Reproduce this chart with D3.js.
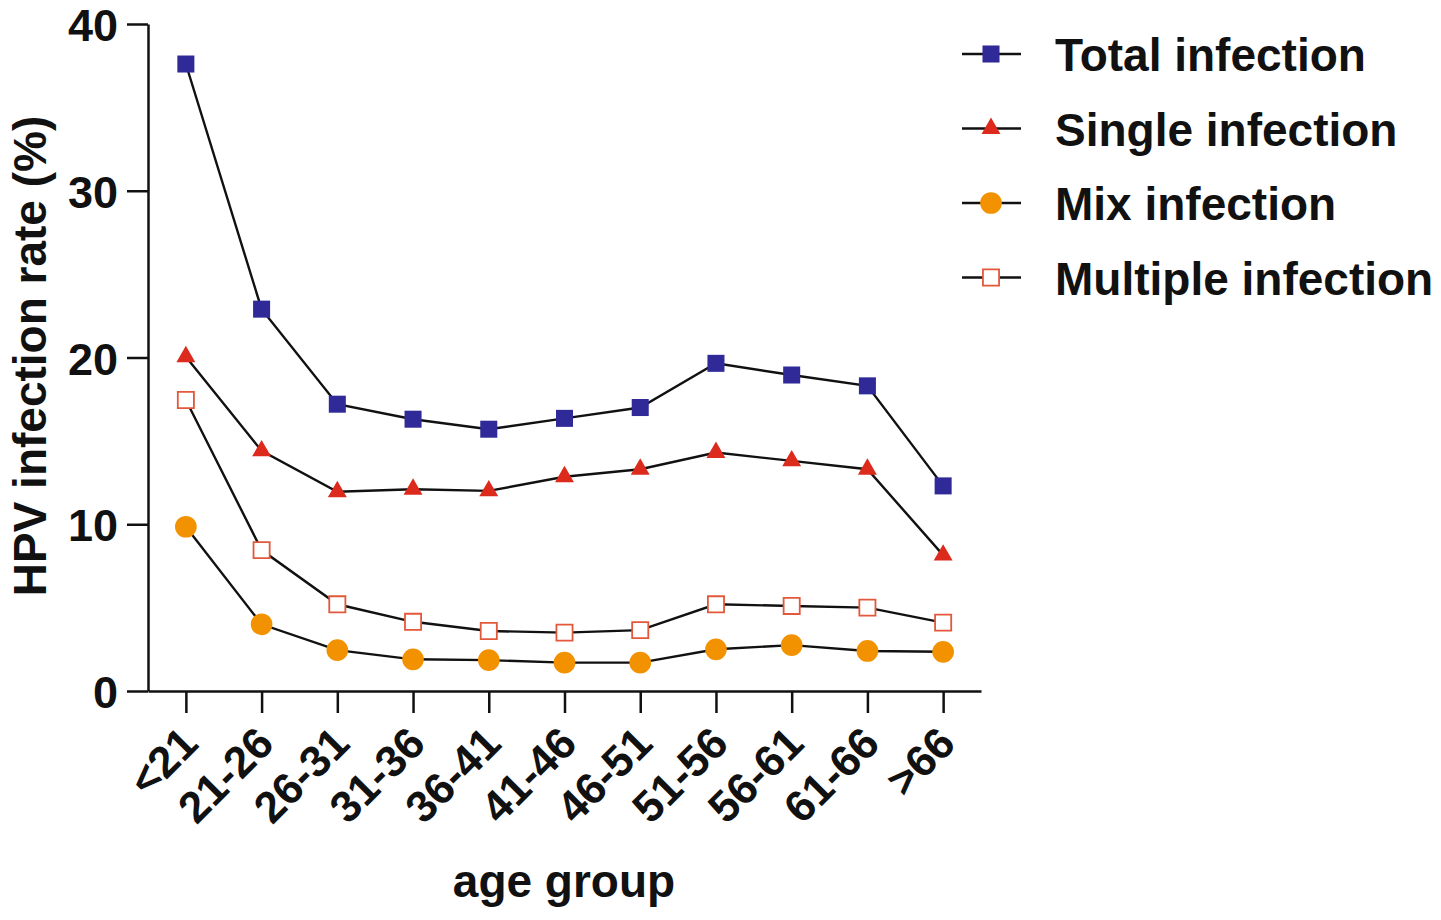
<!DOCTYPE html>
<html>
<head>
<meta charset="utf-8">
<script src="https://cdn.jsdelivr.net/npm/d3@7"></script>
<style>
  body { margin: 0; background: #fff; }
  svg text { font-family: "Liberation Sans", Arial, sans-serif; font-weight: bold; fill: #111; }
</style>
</head>
<body>
<svg id="chart" width="1441" height="920"></svg>
<script>
// age groups on the x axis
var ageGroups = ["<21", "21-26", "26-31", "31-36", "36-41", "41-46", "46-51", "51-56", "56-61", "61-66", ">66"];
// rates in %
var totalInfection = [37.6, 22.9, 17.2, 16.3, 15.7, 16.35, 17.0, 19.65, 18.95, 18.3, 12.3];
var singleInfection = [20.05, 14.4, 11.95, 12.1, 12.0, 12.85, 13.3, 14.3, 13.8, 13.3, 8.15];
var mixInfection = [9.85, 4.0, 2.45, 1.9, 1.85, 1.7, 1.7, 2.5, 2.75, 2.4, 2.35];
var multipleInfection = [17.45, 8.45, 5.2, 4.15, 3.6, 3.5, 3.65, 5.2, 5.1, 5.0, 4.1];
var yTicks = [0, 10, 20, 30, 40];

var series = [
  {name: "Total infection", values: totalInfection, shape: d3.symbolSquare, size: 290, fill: "#2f2a98", stroke: "none"},
  {name: "Single infection", values: singleInfection, shape: d3.symbolTriangle, size: 155, fill: "#dc2a1c", stroke: "none"},
  {name: "Mix infection", values: mixInfection, shape: d3.symbolCircle, size: 370, fill: "#f39200", stroke: "none"},
  {name: "Multiple infection", values: multipleInfection, shape: d3.symbolSquare, size: 260, fill: "#fff", stroke: "#e3583b"}
];

var svg = d3.select("#chart");

var x = d3.scalePoint().domain(ageGroups).range([148, 981]).padding(0.5);
var y = d3.scaleLinear().domain([0, 40]).range([691, 24]);

// y axis
var yAxis = svg.append("g")
  .attr("transform", "translate(148,0)")
  .call(d3.axisLeft(y).tickValues(yTicks).tickSize(21).tickSizeOuter(0).tickPadding(9));
yAxis.select(".domain").attr("stroke", "#111").attr("stroke-width", 2.5);
yAxis.selectAll(".tick line").attr("stroke", "#111").attr("stroke-width", 2.5);
yAxis.selectAll(".tick text").style("font-size", "45px").attr("dy", "0.37em");

// x axis
var xAxis = svg.append("g")
  .attr("transform", "translate(0,691)")
  .call(d3.axisBottom(x).tickSize(22).tickSizeOuter(0));
xAxis.select(".domain").attr("stroke", "#111").attr("stroke-width", 2.5);
xAxis.selectAll(".tick line").attr("stroke", "#111").attr("stroke-width", 2.5);
xAxis.selectAll(".tick text")
  .style("font-size", "44px")
  .attr("text-anchor", "end")
  .attr("dy", 0)
  .attr("y", 0)
  .attr("transform", "translate(14,55) rotate(-45)");

// axis titles
svg.append("text")
  .attr("transform", "translate(46,356) rotate(-90)")
  .attr("text-anchor", "middle")
  .style("font-size", "46px")
  .text("HPV infection rate (%)");

svg.append("text")
  .attr("x", 564).attr("y", 897)
  .attr("text-anchor", "middle")
  .style("font-size", "46px")
  .text("age group");

var line = d3.line()
  .x(function(d, i) { return x(ageGroups[i]); })
  .y(function(d) { return y(d); });

series.forEach(function(s) {
  svg.append("path")
    .attr("d", line(s.values))
    .attr("fill", "none")
    .attr("stroke", "#111")
    .attr("stroke-width", 2.4);
});

series.forEach(function(s) {
  svg.selectAll(null)
    .data(s.values)
    .enter().append("path")
    .attr("transform", function(d, i) { return "translate(" + x(ageGroups[i]) + "," + y(d) + ")"; })
    .attr("d", d3.symbol().type(s.shape).size(s.size))
    .attr("fill", s.fill)
    .attr("stroke", s.stroke)
    .attr("stroke-width", 1.8);
});

// legend
var legend = svg.append("g");
series.forEach(function(s, i) {
  var ly = 54 + i * 74.5;
  legend.append("line")
    .attr("x1", 962).attr("x2", 1021)
    .attr("y1", ly).attr("y2", ly)
    .attr("stroke", "#111").attr("stroke-width", 2.4);
  legend.append("path")
    .attr("transform", "translate(991," + ly + ")")
    .attr("d", d3.symbol().type(s.shape).size(s.size))
    .attr("fill", s.fill)
    .attr("stroke", s.stroke)
    .attr("stroke-width", 1.8);
  legend.append("text")
    .attr("x", 1055).attr("y", ly)
    .attr("dy", "0.37em")
    .style("font-size", "46px")
    .text(s.name);
});
</script>
</body>
</html>
